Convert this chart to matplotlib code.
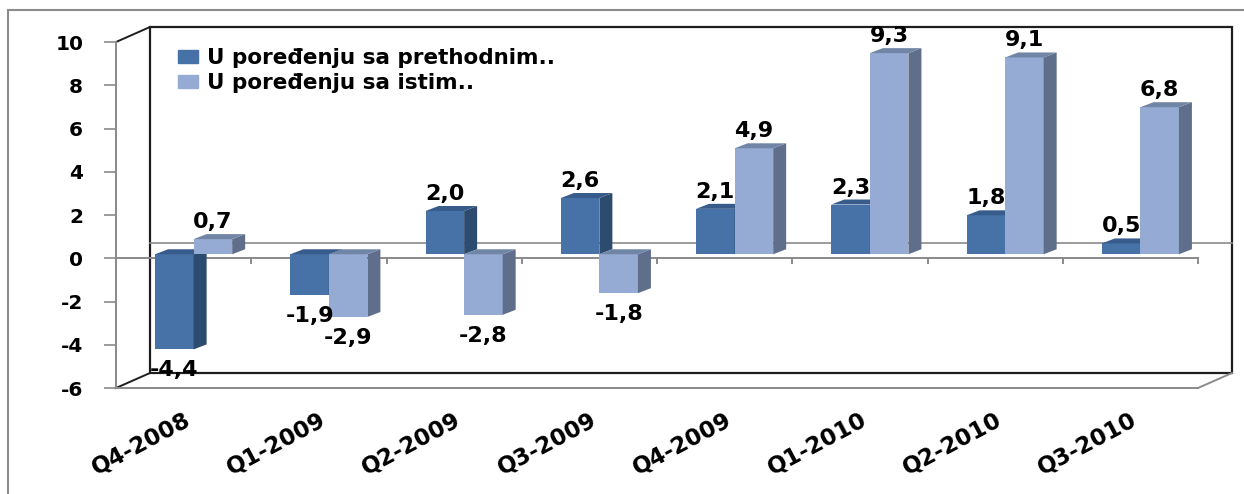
import matplotlib
matplotlib.use('Agg')
import matplotlib.pyplot as plt
from matplotlib.patches import Polygon, Rectangle
from matplotlib.transforms import ScaledTranslation
import numpy as np

categories = ['Q4-2008', 'Q1-2009', 'Q2-2009', 'Q3-2009',
              'Q4-2009', 'Q1-2010', 'Q2-2010', 'Q3-2010']
prev_q = [-4.4, -1.9, 2.0, 2.6, 2.1, 2.3, 1.8, 0.5]
same_q = [0.7, -2.9, -2.8, -1.8, 4.9, 9.3, 9.1, 6.8]
series_names = ['U poređenju sa prethodnim..', 'U poređenju sa istim..']
y_ticks = [-6, -4, -2, 0, 2, 4, 6, 8, 10]

plt.rcParams['font.family'] = ['DejaVu Sans']
plt.rcParams['font.weight'] = 'bold'
plt.rcParams['axes.unicode_minus'] = False

DPI = 100
W, H = 1244, 494
fig = plt.figure(figsize=(W / DPI, H / DPI), dpi=DPI)
fig.patch.set_facecolor('white')

# front plane in pixels
L, R, T, B = 116, 1198, 42, 388
ax = fig.add_axes([L / W, 1 - B / H, (R - L) / W, (B - T) / H])
ax.patch.set_alpha(0)
n = len(categories)
ax.set_xlim(-0.5, n - 0.5)
ax.set_ylim(min(y_ticks), max(y_ticks))

def px(dx, dy):
    return ScaledTranslation(dx / DPI, dy / DPI, fig.dpi_scale_trans)

GRAY = '#8a8a8a'
DARKLINE = '#1e1e1e'
WALL_DX, WALL_DY = 34, 15        # back wall offset (px)
BAR_DX, BAR_DY = 10, 4           # bar plane offset (px)
DEP_DX, DEP_DY = 13, 5           # bar depth (px)
ppx = (R - L) / n                # px per category
ppy = (B - T) / (max(y_ticks) - min(y_ticks))
ddx, ddy = DEP_DX / ppx, DEP_DY / ppy

# back wall
ax.add_patch(Rectangle((0, 0), 1, 1, transform=ax.transAxes + px(WALL_DX, WALL_DY),
                       fill=False, ec=DARKLINE, lw=1.6, clip_on=False, zorder=1))
ax.plot([-0.5, n - 0.5], [0, 0], transform=ax.transData + px(WALL_DX, WALL_DY),
        color=GRAY, lw=1.2, clip_on=False, zorder=1)
dxf, dyf = WALL_DX / (R - L), WALL_DY / (B - T)
ax.plot([0, dxf], [1, 1 + dyf], transform=ax.transAxes, color=DARKLINE, lw=1.4, clip_on=False, zorder=1)
ax.plot([0, dxf], [0, dyf], transform=ax.transAxes, color=DARKLINE, lw=1.4, clip_on=False, zorder=1)
ax.plot([1, 1 + dxf], [0, dyf], transform=ax.transAxes, color=GRAY, lw=1.4, clip_on=False, zorder=1)

# front zero line + category ticks
ax.plot([-0.5, n - 0.5], [0, 0], color=GRAY, lw=1.4, zorder=2, clip_on=False)
tick_len = 5 / ppy
for k in range(1, n + 1):
    ax.plot([k - 0.5, k - 0.5], [0, -tick_len], color=GRAY, lw=1.4, zorder=2, clip_on=False)

# bars
x = np.arange(n)
w = 0.285
bar_tr = ax.transData + px(BAR_DX, BAR_DY)
series = [
    (prev_q, -w / 2, '#4672A8', '#2D4A6F', '#375B8A', 3),
    (same_q, w / 2, '#96ABD3', '#5F6F8B', '#7186A6', 4),
]
handles = []
for vals, off, cf, cs, ct, z in series:
    bars = ax.bar(x + off, vals, w, color=cf, edgecolor='none', zorder=z,
                  transform=bar_tr)
    handles.append(Rectangle((0, 0), 1, 1, color=cf))
    for b, v in zip(bars, vals):
        x0 = b.get_x()
        x1 = x0 + b.get_width()
        ytop = max(v, 0)
        ybot = min(v, 0)
        side = Polygon([(x1, ybot), (x1 + ddx, ybot + ddy), (x1 + ddx, ytop + ddy), (x1, ytop)],
                       closed=True, fc=cs, ec='none', transform=bar_tr, zorder=z)
        top = Polygon([(x0, ytop), (x1, ytop), (x1 + ddx, ytop + ddy), (x0 + ddx, ytop + ddy)],
                      closed=True, fc=ct, ec='none', transform=bar_tr, zorder=z)
        ax.add_patch(side)
        ax.add_patch(top)
        lab = f'{v:.1f}'.replace('.', ',')
        xc = x0 + b.get_width() / 2
        if v >= 0:
            ax.annotate(lab, xy=(xc, v), xycoords=bar_tr, xytext=(0, 11),
                        textcoords='offset pixels', ha='center', va='baseline',
                        fontsize=16, fontweight='bold', color='black', zorder=6)
        else:
            ax.annotate(lab, xy=(xc, v), xycoords=bar_tr, xytext=(0, -11),
                        textcoords='offset pixels', ha='center', va='top',
                        fontsize=16, fontweight='bold', color='black', zorder=6)

# axes styling
for s in ['top', 'right']:
    ax.spines[s].set_visible(False)
for s in ['left', 'bottom']:
    ax.spines[s].set_color(GRAY)
    ax.spines[s].set_linewidth(1.4)
ax.set_yticks(y_ticks)
ax.set_yticklabels([str(t) for t in y_ticks], fontsize=14.5, fontweight='bold')
ax.tick_params(axis='y', direction='out', length=8.6, width=1.2, color=GRAY, pad=15)
ax.set_xticks(x)
ax.set_xticklabels(categories, rotation=28, ha='right', rotation_mode='anchor',
                   fontsize=16.5, fontweight='bold')
ax.tick_params(axis='x', length=0, pad=15)

fig.legend(handles, series_names, loc='upper left', bbox_to_anchor=(178 / W, 1 - 48 / H),
           frameon=False, prop={'size': 15.5, 'weight': 'bold'}, handlelength=0.93,
           handleheight=0.56, handletextpad=0.42, labelspacing=0.25, borderpad=0,
           borderaxespad=0)

# outer chart border
fig.add_artist(Rectangle((8 / W, -0.1), 1.2, 1 - 10 / H + 0.1, transform=fig.transFigure,
                         fill=False, ec='#8c8c8c', lw=1.5))

fig.savefig('out.png', dpi=DPI)
